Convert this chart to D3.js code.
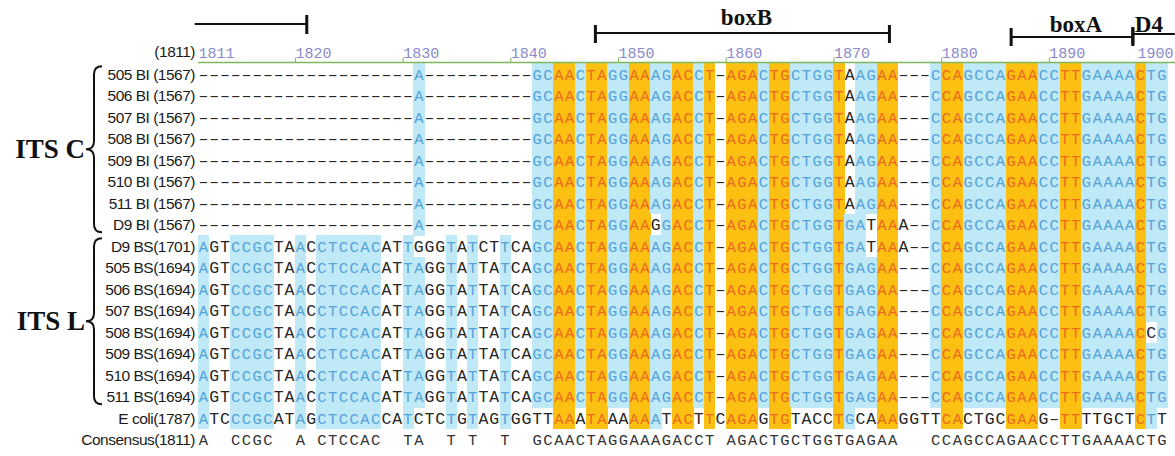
<!DOCTYPE html>
<html>
<head>
<meta charset="utf-8">
<script src="https://cdn.jsdelivr.net/npm/d3@7"></script>
<style>
  body { margin: 0; background: #fff; }
  svg { display: block; }
</style>
</head>
<body>
<div id="chart"></div>
<script>
// alignment rows, top to bottom
const rowNames = [
  "505 BI (1567)", "506 BI (1567)", "507 BI (1567)", "508 BI (1567)",
  "509 BI (1567)", "510 BI (1567)", "511 BI (1567)", "D9 BI (1567)",
  "D9 BS(1701)", "505 BS(1694)", "506 BS(1694)", "507 BS(1694)",
  "508 BS(1694)", "509 BS(1694)", "510 BS(1694)", "511 BS(1694)",
  "E coli(1787)"
];

// positions 1811..1900
const biStart = "--------------------A----------";
const biEnd = "GCAACTAGGAAAGACCT-AGACTGCTGGTAAGAA---CCAGCCAGAACCTTGAAAACTG";
const d9End = "GCAACTAGGAAGGACCT-AGACTGCTGGTGATAAA--CCAGCCAGAACCTTGAAAACTG";
const d9bsEnd = "GCAACTAGGAAAGACCT-AGACTGCTGGTGATAAA--CCAGCCAGAACCTTGAAAACTG";
const bsStart = "AGTCCGCTAACCTCCACATTAGGTATTATCA";
const bsEnd = "GCAACTAGGAAAGACCT-AGACTGCTGGTGAGAA---CCAGCCAGAACCTTGAAAACTG";

const sequences = [
  biStart + biEnd, biStart + biEnd, biStart + biEnd, biStart + biEnd,
  biStart + biEnd, biStart + biEnd, biStart + biEnd, biStart + d9End,
  "AGTCCGCTAACCTCCACATTGGGTATCTTCA" + d9bsEnd,
  bsStart + bsEnd, bsStart + bsEnd, bsStart + bsEnd,
  bsStart + "GCAACTAGGAAAGACCT-AGACTGCTGGTGAGAA---CCAGCCAGAACCTTGAAAACCG",
  bsStart + bsEnd, bsStart + bsEnd, bsStart + bsEnd,
  "ATCCCGCATAGCTCCACCATCTCTGTAGTGG" + "TTAAATAAAAAATACTTCAGAGTGTACCTGCAAAGGTTCACTGCGAAG-TTTTGCTCTT"
];

const consensus = "A  CCGC  A CTCCAC  TA  T T  T  " +
  "GCAACTAGGAAAGACCT AGACTGCTGGTGAGAA   CCAGCCAGAACCTTGAAAACTG";

const firstPos = 1811;
const lastPos = 1900;
const tickValues = [1811, 1820, 1830, 1840, 1850, 1860, 1870, 1880, 1890, 1900];

const groups = [
  { name: "ITS C", first: 0, last: 7 },
  { name: "ITS L", first: 8, last: 15 }
];

// regions above the ruler (alignment positions)
const regions = [
  { label: "", from: 1810.7, to: 1821.1 },
  { label: "boxB", from: 1847.9, to: 1875.2 },
  { label: "boxA", from: 1886.5, to: 1897.8 },
  { label: "D4", from: 1897.8, to: 1901.7 }
];

const width = 1175;
const height = 456;

const colors = {
  same: "#fcc012", sameText: "#ec6a20",
  cons: "#bfe9f6", consText: "#55a2da",
  plain: "#262626"
};

const svg = d3.select("#chart").append("svg")
  .attr("width", width)
  .attr("height", height);

const x = d3.scaleLinear()
  .domain([firstPos, lastPos + 1])
  .range([198, 1167.3]);
const colW = x(firstPos + 1) - x(firstPos);

const allRows = rowNames.concat(["Consensus(1811)"]);
const y = d3.scaleBand()
  .domain(d3.range(allRows.length))
  .range([63.25, 63.25 + allRows.length * 21.5]);

// build the cells
const cells = [];
sequences.forEach((seq, r) => {
  seq.split("").forEach((ch, i) => {
    const col = sequences.map(s => s[i]);
    const identical = col.every(c => c === col[0] && c !== "-");
    let kind = "plain";
    if (ch !== "-" && identical) kind = "same";
    else if (ch !== "-" && ch === consensus[i]) kind = "cons";
    cells.push({ row: r, pos: firstPos + i, ch, kind });
  });
});

// backgrounds
svg.append("g")
  .selectAll("rect")
  .data(cells.filter(d => d.kind !== "plain"))
  .join("rect")
  .attr("x", d => x(d.pos))
  .attr("y", d => y(d.row))
  .attr("width", colW + 0.4)
  .attr("height", y.bandwidth() + 0.4)
  .attr("fill", d => colors[d.kind])
  .attr("shape-rendering", "crispEdges");

// letters
svg.append("g")
  .attr("font-family", "'Liberation Mono', 'DejaVu Sans Mono', monospace")
  .attr("text-anchor", "middle")
  .selectAll("text")
  .data(cells)
  .join("text")
  .attr("x", d => x(d.pos) + colW / 2)
  .attr("y", d => y(d.row) + y.bandwidth() / 2 + 5.5)
  .attr("font-size", d => d.kind === "plain" ? "16.5px" : "15.5px")
  .attr("fill", d => d.kind === "same" ? colors.sameText : d.kind === "cons" ? colors.consText : colors.plain)
  .text(d => d.ch === "-" ? "\u2013" : d.ch);

// consensus row
const consRow = allRows.length - 1;
svg.append("g")
  .attr("font-family", "'Liberation Mono', 'DejaVu Sans Mono', monospace")
  .attr("font-size", "15.5px")
  .attr("text-anchor", "middle")
  .attr("fill", "#333")
  .selectAll("text")
  .data(consensus.split("").map((ch, i) => ({ pos: firstPos + i, ch })).filter(d => d.ch !== " "))
  .join("text")
  .attr("x", d => x(d.pos) + colW / 2)
  .attr("y", y(consRow) + y.bandwidth() / 2 + 5.5)
  .text(d => d.ch);

// row labels
svg.append("g")
  .attr("font-family", "Arial, 'Liberation Sans', sans-serif")
  .attr("font-size", "15.5px")
  .attr("letter-spacing", "-0.5px")
  .attr("text-anchor", "end")
  .attr("fill", "#1a1a1a")
  .selectAll("text")
  .data(allRows)
  .join("text")
  .attr("x", 195)
  .attr("y", (d, i) => y(i) + y.bandwidth() / 2 + 5.5)
  .text(d => d);

svg.append("text")
  .attr("x", 195).attr("y", 57)
  .attr("text-anchor", "end")
  .attr("font-family", "Arial, 'Liberation Sans', sans-serif")
  .attr("font-size", "15.5px")
  .attr("letter-spacing", "-0.5px")
  .attr("fill", "#1a1a1a")
  .text("(" + firstPos + ")");

// ruler
const ruler = svg.append("g")
  .attr("transform", "translate(0,62.5)")
  .call(d3.axisTop(x).tickValues(tickValues).tickSize(5).tickFormat(d3.format("d")));
ruler.select(".domain").remove();
ruler.selectAll(".tick line")
  .attr("stroke", "#7fb85c")
  .attr("opacity", d => (d === firstPos || d === lastPos) ? 0 : 1);
ruler.selectAll(".tick text")
  .attr("font-family", "'Liberation Mono', 'DejaVu Sans Mono', monospace")
  .attr("font-size", "15px")
  .attr("fill", "#8a8acb")
  .attr("y", -5)
  .attr("dy", 0)
  .attr("text-anchor", d => d === lastPos ? "end" : "start")
  .attr("x", d => d === lastPos ? width - 2 - x(d) : 0);
svg.append("line")
  .attr("x1", x(firstPos)).attr("x2", width)
  .attr("y1", 62.5).attr("y2", 62.5)
  .attr("stroke", "#7fb85c").attr("stroke-width", 1.5);

// region bars
const regionLayout = [
  { lineY: 24, barTop: 15, barBot: 34, labelY: 0, bars: [false, true] },
  { lineY: 33, barTop: 25, barBot: 43, labelY: 25, bars: [true, true] },
  { lineY: 37, barTop: 28, barBot: 46, labelY: 32, bars: [true, true] },
  { lineY: 34, barTop: 27, barBot: 44, labelY: 32, bars: [true, false] }
];
regions.forEach((r, i) => {
  const L = regionLayout[i];
  const g = svg.append("g").attr("stroke", "#111").attr("stroke-width", 2.2);
  g.append("line").attr("x1", x(r.from)).attr("x2", Math.min(x(r.to), width)).attr("y1", L.lineY).attr("y2", L.lineY);
  if (L.bars[0]) g.append("line").attr("x1", x(r.from)).attr("x2", x(r.from)).attr("y1", L.barTop).attr("y2", L.barBot).attr("stroke-width", 3);
  if (L.bars[1]) g.append("line").attr("x1", x(r.to)).attr("x2", x(r.to)).attr("y1", L.barTop).attr("y2", L.barBot).attr("stroke-width", 3);
  if (r.label) {
    svg.append("text")
      .attr("x", r.label === "D4" ? x(r.from) + 2 : (x(r.from) + x(r.to)) / 2 + 4)
      .attr("y", L.labelY)
      .attr("text-anchor", r.label === "D4" ? "start" : "middle")
      .attr("font-family", "'Liberation Serif', 'Times New Roman', serif")
      .attr("font-weight", "bold")
      .attr("font-size", "23px")
      .attr("fill", "#111")
      .text(r.label);
  }
});

// group braces
function bracePath(xc, top, bot) {
  const xr = xc + 16, xv = xc + 8, mid = (top + bot) / 2, r = 8;
  return `M${xr},${top} Q${xv},${top} ${xv},${top + r} L${xv},${mid - r} Q${xv},${mid} ${xc},${mid}` +
    ` Q${xv},${mid} ${xv},${mid + r} L${xv},${bot - r} Q${xv},${bot} ${xr},${bot}`;
}
groups.forEach(gr => {
  const top = y(gr.first) + 3;
  const bot = y(gr.last) + y.bandwidth() - 3;
  svg.append("path")
    .attr("d", bracePath(86, top, bot))
    .attr("fill", "none")
    .attr("stroke", "#111")
    .attr("stroke-width", 2);
  svg.append("text")
    .attr("x", 85)
    .attr("y", (top + bot) / 2 + 9)
    .attr("text-anchor", "end")
    .attr("font-family", "'Liberation Serif', 'Times New Roman', serif")
    .attr("font-weight", "bold")
    .attr("font-size", "27px")
    .attr("fill", "#111")
    .text(gr.name);
});
</script>
</body>
</html>
